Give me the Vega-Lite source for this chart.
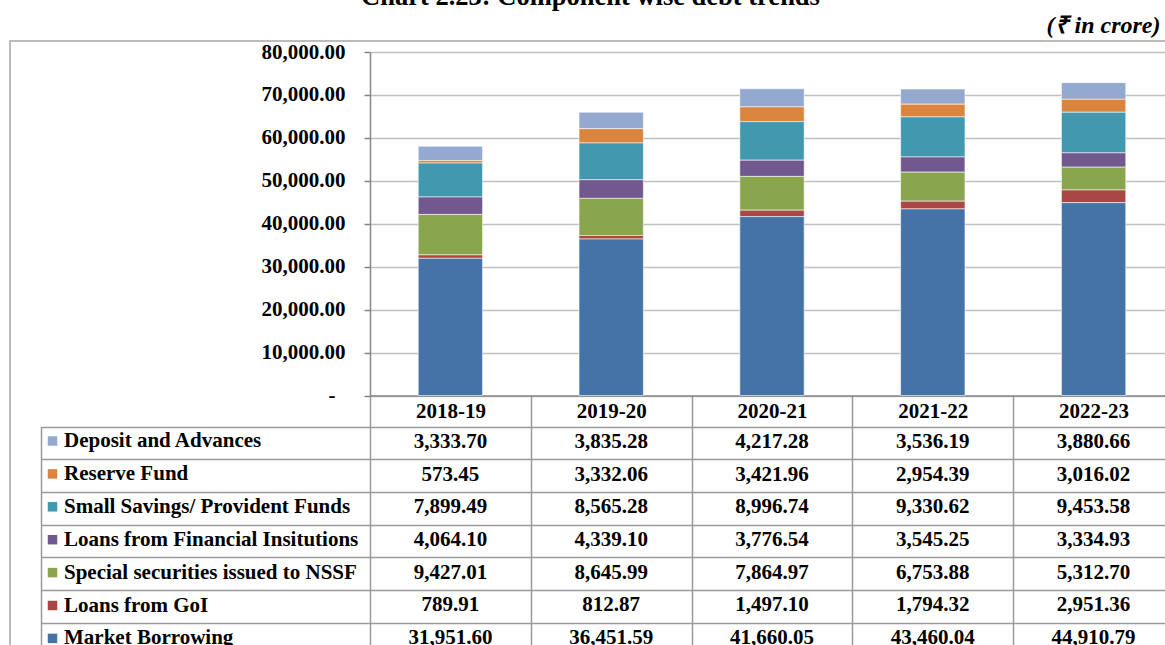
{
  "$schema": "https://vega.github.io/schema/vega-lite/v6.json",
  "autosize": {"type": "none"},
  "padding": {"left": 10, "top": 41, "right": -20, "bottom": -20},
  "width": 1175,
  "height": 624,
  "background": "white",
  "title": {"text": "Chart 2.23: Component wise debt trends", "font": "Liberation Serif", "fontSize": 26.5, "fontWeight": "bold", "color": "black", "anchor": "middle", "offset": 2, "baseline": "alphabetic", "dx": -7, "dy": 20},
  "config": {"view": {"stroke": "#a6a6a6", "strokeWidth": 1.5}, "font": "Liberation Serif"},
  "data": {"values": [
    {"year": "2018-19", "series": "Deposit and Advances", "rank": 7, "value": 3333.70},
    {"year": "2019-20", "series": "Deposit and Advances", "rank": 7, "value": 3835.28},
    {"year": "2020-21", "series": "Deposit and Advances", "rank": 7, "value": 4217.28},
    {"year": "2021-22", "series": "Deposit and Advances", "rank": 7, "value": 3536.19},
    {"year": "2022-23", "series": "Deposit and Advances", "rank": 7, "value": 3880.66},
    {"year": "2018-19", "series": "Reserve Fund", "rank": 6, "value": 573.45},
    {"year": "2019-20", "series": "Reserve Fund", "rank": 6, "value": 3332.06},
    {"year": "2020-21", "series": "Reserve Fund", "rank": 6, "value": 3421.96},
    {"year": "2021-22", "series": "Reserve Fund", "rank": 6, "value": 2954.39},
    {"year": "2022-23", "series": "Reserve Fund", "rank": 6, "value": 3016.02},
    {"year": "2018-19", "series": "Small Savings/ Provident Funds", "rank": 5, "value": 7899.49},
    {"year": "2019-20", "series": "Small Savings/ Provident Funds", "rank": 5, "value": 8565.28},
    {"year": "2020-21", "series": "Small Savings/ Provident Funds", "rank": 5, "value": 8996.74},
    {"year": "2021-22", "series": "Small Savings/ Provident Funds", "rank": 5, "value": 9330.62},
    {"year": "2022-23", "series": "Small Savings/ Provident Funds", "rank": 5, "value": 9453.58},
    {"year": "2018-19", "series": "Loans from Financial Insitutions", "rank": 4, "value": 4064.10},
    {"year": "2019-20", "series": "Loans from Financial Insitutions", "rank": 4, "value": 4339.10},
    {"year": "2020-21", "series": "Loans from Financial Insitutions", "rank": 4, "value": 3776.54},
    {"year": "2021-22", "series": "Loans from Financial Insitutions", "rank": 4, "value": 3545.25},
    {"year": "2022-23", "series": "Loans from Financial Insitutions", "rank": 4, "value": 3334.93},
    {"year": "2018-19", "series": "Special securities issued to NSSF", "rank": 3, "value": 9427.01},
    {"year": "2019-20", "series": "Special securities issued to NSSF", "rank": 3, "value": 8645.99},
    {"year": "2020-21", "series": "Special securities issued to NSSF", "rank": 3, "value": 7864.97},
    {"year": "2021-22", "series": "Special securities issued to NSSF", "rank": 3, "value": 6753.88},
    {"year": "2022-23", "series": "Special securities issued to NSSF", "rank": 3, "value": 5312.70},
    {"year": "2018-19", "series": "Loans from GoI", "rank": 2, "value": 789.91},
    {"year": "2019-20", "series": "Loans from GoI", "rank": 2, "value": 812.87},
    {"year": "2020-21", "series": "Loans from GoI", "rank": 2, "value": 1497.10},
    {"year": "2021-22", "series": "Loans from GoI", "rank": 2, "value": 1794.32},
    {"year": "2022-23", "series": "Loans from GoI", "rank": 2, "value": 2951.36},
    {"year": "2018-19", "series": "Market Borrowing", "rank": 1, "value": 31951.60},
    {"year": "2019-20", "series": "Market Borrowing", "rank": 1, "value": 36451.59},
    {"year": "2020-21", "series": "Market Borrowing", "rank": 1, "value": 41660.05},
    {"year": "2021-22", "series": "Market Borrowing", "rank": 1, "value": 43460.04},
    {"year": "2022-23", "series": "Market Borrowing", "rank": 1, "value": 44910.79}
  ]},
  "resolve": {"scale": {"y": "independent"}, "axis": {"x": "independent", "y": "independent"}},
  "layer": [
    {
      "mark": {"type": "bar", "width": {"band": 0.4}, "stroke": "white", "strokeWidth": 0.8, "strokeOpacity": 0.7},
      "encoding": {
        "x": {"field": "year", "type": "nominal",
          "scale": {"range": [360, 1164], "paddingInner": 0, "paddingOuter": 0},
          "axis": {"orient": "bottom", "offset": -269.5, "title": null, "tickBand": "extent", "tickSize": 262, "tickColor": "#9a9a9a", "tickWidth": 1.5, "domainColor": "#868686", "domainWidth": 1.5, "labelAngle": 0, "labelFont": "Liberation Serif", "labelFontSize": 21, "labelFontWeight": "bold", "labelColor": "black", "labelBaseline": "middle", "labelPadding": -246.5, "grid": false}},
        "y": {"field": "value", "type": "quantitative", "stack": "zero",
          "scale": {"domain": [0, 80000], "range": [354.5, 11], "nice": false},
          "axis": {"orient": "left", "offset": -360, "values": [0, 10000, 20000, 30000, 40000, 50000, 60000, 70000, 80000], "labelExpr": "datum.value == 0 ? '-' : format(datum.value, ',.2f')", "title": null, "tickSize": 6, "tickColor": "#868686", "tickWidth": 1.5, "domainColor": "#868686", "domainWidth": 1.5, "grid": true, "gridColor": "#c0c0c0", "gridWidth": 1.5, "labelFont": "Liberation Serif", "labelFontSize": 21, "labelFontWeight": "bold", "labelColor": "black", "labelPadding": {"condition": {"test": "datum.value == 0", "value": 29}, "value": 19}, "labelBaseline": "middle"}},
        "order": {"field": "rank", "type": "quantitative", "sort": "ascending"},
        "color": {"field": "series", "type": "nominal",
          "scale": {"domain": ["Deposit and Advances", "Reserve Fund", "Small Savings/ Provident Funds", "Loans from Financial Insitutions", "Special securities issued to NSSF", "Loans from GoI", "Market Borrowing"], "range": ["#93A9CF", "#DB843D", "#4198AF", "#71588F", "#89A54E", "#AA4643", "#4572A7"]},
          "legend": {"orient": "none", "legendX": 32, "legendY": 389.5, "title": null, "symbolType": "square", "symbolSize": 90, "symbolStrokeWidth": 0, "symbolOpacity": 1, "labelFont": "Liberation Serif", "labelFontSize": 21, "labelFontWeight": "bold", "labelColor": "black", "labelOffset": 1, "rowPadding": 10.9, "padding": 0, "labelLimit": 500, "direction": "vertical"}}
      }
    },
    {
      "mark": {"type": "text", "font": "Liberation Serif", "fontSize": 21, "fontWeight": "bold", "color": "black", "baseline": "middle", "dy": -1},
      "encoding": {
        "x": {"field": "year", "type": "nominal",
          "axis": {"orient": "top", "title": "(₹ in crore)", "labels": false, "ticks": false, "domain": false, "grid": false, "titleFont": "Liberation Serif", "titleFontSize": 24, "titleFontWeight": "bold", "titleFontStyle": "italic", "titleColor": "black", "titleAlign": "right", "titleBaseline": "alphabetic", "titleX": 1150, "titleY": -9}},
        "y": {"field": "series", "type": "nominal",
          "scale": {"domain": ["Deposit and Advances", "Reserve Fund", "Small Savings/ Provident Funds", "Loans from Financial Insitutions", "Special securities issued to NSSF", "Loans from GoI", "Market Borrowing"], "range": [385.5, 614.4], "paddingInner": 0, "paddingOuter": 0},
          "axis": {"orient": "left", "offset": -31, "title": null, "labels": false, "tickBand": "extent", "tickSize": -329, "tickColor": "#9a9a9a", "tickWidth": 1.5, "domain": true, "domainColor": "#9a9a9a", "domainWidth": 1.5, "grid": true, "gridColor": "#9a9a9a", "gridWidth": 1.5}},
        "text": {"field": "value", "type": "quantitative", "format": ",.2f"}
      }
    }
  ]
}
